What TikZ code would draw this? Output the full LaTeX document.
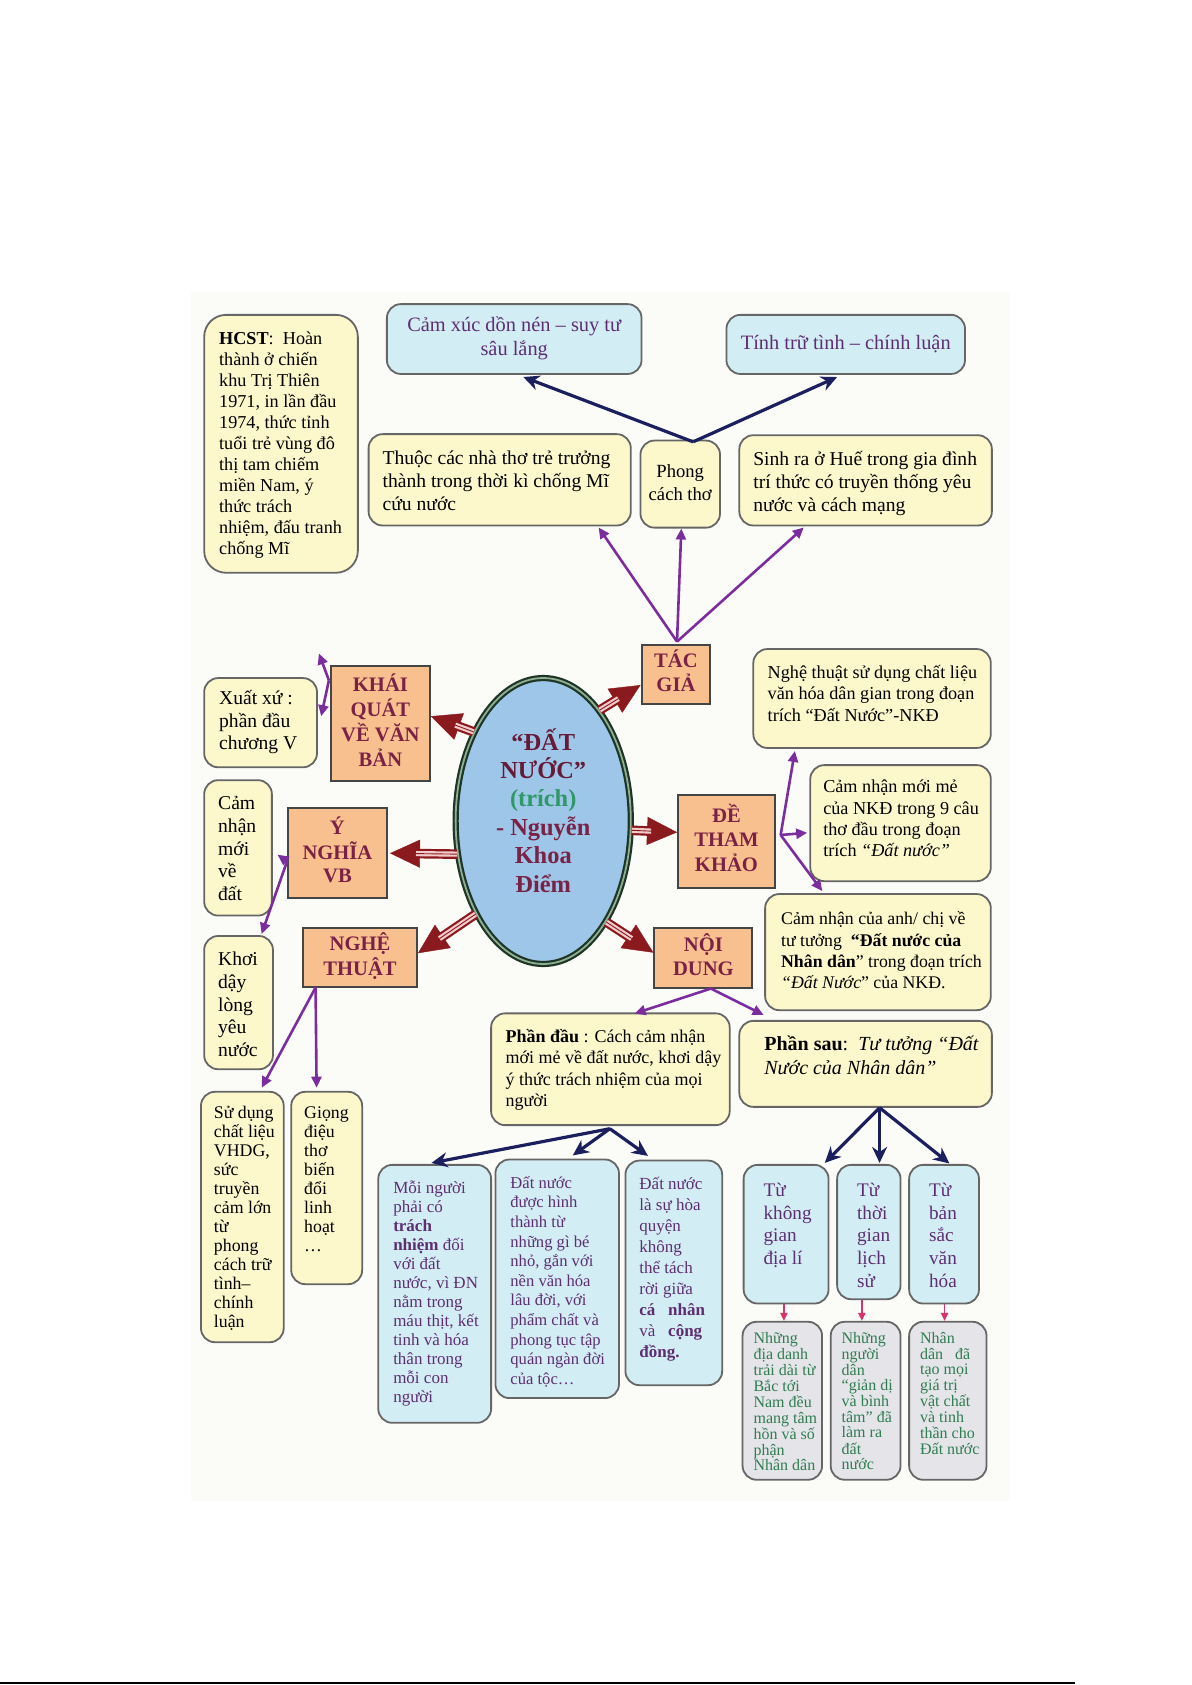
\documentclass[tikz,border=0pt]{standalone}
\usepackage{fontspec}
\setmainfont{Liberation Serif}
\usetikzlibrary{shapes.geometric,arrows.meta,calc}
\definecolor{yfill}{HTML}{FCF8CC}
\definecolor{bfill}{HTML}{D3EDF5}
\definecolor{gfill}{HTML}{E4E4E9}
\definecolor{ofill}{HTML}{F9C08F}
\definecolor{bord}{HTML}{666666}
\definecolor{obord}{HTML}{454545}
\definecolor{mar}{HTML}{7A2246}
\definecolor{ellmar}{HTML}{661A38}
\definecolor{ellfill}{HTML}{9DC6E8}
\definecolor{ellbord}{HTML}{1E3526}
\definecolor{ellin}{HTML}{8FAF95}
\definecolor{trgreen}{HTML}{2E9966}
\definecolor{purpc}{HTML}{7B2D9E}
\definecolor{navyc}{HTML}{1C1F5E}
\definecolor{arrred}{HTML}{8A1A1E}
\definecolor{shaftin}{HTML}{F2CBCB}
\definecolor{pinkc}{HTML}{D6336C}
\definecolor{ptext}{HTML}{5E2E72}
\definecolor{gtext}{HTML}{2F7D50}
\definecolor{panelc}{HTML}{FBFCF8}
\newcommand\setfs[2]{\fontsize{#1}{#2}\selectfont}
\newcommand\Lt[1]{\begin{tabular}{@{}l@{}}#1\end{tabular}}
\newcommand\Ct[1]{\begin{tabular}{@{}c@{}}#1\end{tabular}}
% style, name, x1, y1, x2, y2, pad(pt), valign, text
\newcommand\mkbox[9]{%
  \pgfmathsetmacro\bxX{(#3+#5)/2}%
  \pgfmathsetmacro\bxY{(#4+#6)/2}%
  \pgfmathsetmacro\bxW{(#5-#3)*0.5374-2*#7}%
  \pgfmathsetmacro\bxH{(#6-#4)*0.5374-2*#7}%
  \node[#1, inner sep=#7pt] (#2) at (\bxX,\bxY) {\parbox[c][\bxH pt][#8]{\bxW pt}{#9}};%
}
\newcommand\bigarr[2]{%
  \draw[arrred, line width=0.2pt, -{Triangle[length=15pt,width=14pt]}] #1 -- #2;
  \draw[arrred, line width=1.1pt, double=shaftin, double distance=2.6pt, shorten >=13pt] #1 -- #2;
  \draw[arrred, line width=0.45pt, shorten >=13pt] #1 -- #2;
}
\begin{document}
\begin{tikzpicture}[x=0.5374pt, y=-0.5374pt,
  ybox/.style={draw=bord, line width=0.9pt, fill=yfill, rounded corners=7pt, text=black},
  bbox/.style={draw=bord, line width=0.9pt, fill=bfill, rounded corners=7pt, text=ptext},
  gbox/.style={draw=bord, line width=0.9pt, fill=gfill, rounded corners=7pt, text=gtext},
  obox/.style={draw=obord, line width=1pt, fill=ofill, text=mar, font=\bfseries},
  purparr/.style={draw=purpc, line width=1.3pt, -{Triangle[length=5.5pt,width=5pt]}},
  navyarr/.style={draw=navyc, line width=1.6pt, -{Stealth[length=8pt,width=7.5pt]}},
  pinkarr/.style={draw=pinkc, line width=0.8pt, -{Triangle[length=4pt,width=3.6pt]}}]
\useasboundingbox (0,0) rectangle (1109,1568);
\fill[white] (0,0) rectangle (1109,1568);
\fill[panelc] (178,272) rectangle (940,1397);
\draw[black, line width=1.3pt] (0,1566) -- (1000,1566);

% top row
\mkbox{bbox}{cx}{360}{283}{597}{348}{4}{c}{\centering\setfs{10.2}{11.8}\Ct{Cảm xúc dồn nén – suy tư\\sâu lắng}}
\mkbox{bbox}{tt}{676}{293}{898}{348}{4}{c}{\centering\setfs{10.2}{11.8}\Ct{Tính trữ tình – chính luận}}
\mkbox{ybox, rounded corners=11pt}{hcst}{190}{293}{333}{533}{7.5}{t}{\setfs{9.1}{10.5}\Lt{\textbf{HCST}:\ \ Hoàn\\thành ở chiến\\khu Trị Thiên\\1971, in lần đầu\\1974, thức tỉnh\\tuổi trẻ vùng đô\\thị tam chiếm\\miền Nam, ý\\thức trách\\nhiệm, đấu tranh\\chống Mĩ}}
\mkbox{ybox}{thuoc}{343}{404}{587}{489}{7}{t}{\setfs{9.8}{11.5}\Lt{Thuộc các nhà thơ trẻ trưởng\\thành trong thời kì chống Mĩ\\cứu nước}}
\mkbox{ybox}{pc}{596}{410}{670}{491}{2}{c}{\centering\setfs{9.3}{11.8}\Ct{Phong\\cách thơ}}
\mkbox{ybox}{sinh}{688}{405}{923}{489}{7}{t}{\setfs{9.8}{11.5}\Lt{Sinh ra ở Huế trong gia đình\\trí thức có truyền thống yêu\\nước và cách mạng}}
\mkbox{obox}{tg}{597}{600}{661}{655}{3}{c}{\centering\setfs{10.3}{11.8}\Ct{TÁC\\GIẢ}}

% right column
\mkbox{ybox}{nt1}{701}{604}{922}{696}{7.2}{t}{\setfs{9.1}{10.7}\Lt{Nghệ thuật sử dụng chất liệu\\văn hóa dân gian trong đoạn\\trích “Đất Nước”-NKĐ}}
\mkbox{ybox}{cn9}{754}{712}{922}{820}{6.5}{t}{\setfs{9.1}{10.6}\Lt{Cảm nhận mới mẻ\\của NKĐ trong 9 câu\\thơ đầu trong đoạn\\trích \textit{“Đất nước”}}}
\mkbox{obox}{de}{631}{740}{721}{826}{3}{c}{\centering\setfs{10.3}{11.8}\Ct{ĐỀ\\THAM\\KHẢO}}
\mkbox{ybox}{cnad}{712}{832}{922}{940}{8}{t}{\setfs{8.9}{10.6}\Lt{Cảm nhận của anh/ chị về\\tư tưởng\ \ \textbf{“Đất nước của}\\\textbf{Nhân dân}” trong đoạn trích\\\textit{“Đất Nước}” của NKĐ.}}

% left column
\mkbox{obox}{kq}{308}{620}{400}{727}{3}{c}{\centering\setfs{10.3}{11.8}\Ct{KHÁI\\QUÁT\\VỀ VĂN\\BẢN}}
\mkbox{ybox}{xx}{190}{631}{295}{714}{7.5}{c}{\setfs{9.8}{11.3}\Lt{Xuất xứ :\\phần đầu\\chương V}}
\mkbox{obox}{yn}{268}{752}{360}{836}{3}{c}{\centering\setfs{10.3}{11.8}\Ct{Ý\\NGHĨA\\VB}}
\mkbox{ybox}{cnd}{190}{726}{253}{852}{7}{t}{\setfs{9.8}{11.3}\Lt{Cảm\\nhận\\mới\\về\\đất}}
\mkbox{ybox}{kd}{190}{871}{254}{995}{7}{t}{\setfs{9.8}{11.3}\Lt{Khơi\\dậy\\lòng\\yêu\\nước}}
\mkbox{obox}{ngt}{282}{864}{388}{918}{3}{c}{\centering\setfs{10.3}{11.8}\Ct{NGHỆ\\THUẬT}}
\mkbox{ybox}{sd}{187}{1016}{264}{1249}{6.5}{t}{\setfs{8.9}{9.5}\Lt{Sử dụng\\chất liệu\\VHDG,\\sức\\truyền\\cảm lớn\\từ\\phong\\cách trữ\\tình–\\chính\\luận}}
\mkbox{ybox}{gd}{271}{1016}{337}{1195}{6.5}{t}{\setfs{8.9}{9.5}\Lt{Giọng\\điệu\\thơ\\biến\\đổi\\linh\\hoạt\\…}}

% bottom
\mkbox{obox}{nd}{609}{864}{700}{919}{3}{c}{\centering\setfs{10.3}{11.8}\Ct{NỘI\\DUNG}}
\mkbox{ybox}{pd}{457}{943}{679}{1047}{7.2}{t}{\setfs{9.0}{10.6}\Lt{\textbf{Phần đầu} : Cách cảm nhận\\mới mẻ về đất nước, khơi dậy\\ý thức trách nhiệm của mọi\\người}}
\mkbox{ybox}{ps}{688}{950}{923}{1030}{6.5}{t}{\leftskip=6pt\setfs{10}{11.8}\Lt{\textbf{Phần sau}:\ \ \textit{Tư tưởng “Đất}\\\textit{Nước của Nhân dân”}}}

\mkbox{bbox}{mn}{352}{1084}{457}{1324}{7.5}{t}{\setfs{8.5}{9.5}\Lt{Mỗi người\\phải có\\\textbf{trách}\\\textbf{nhiệm} đối\\với đất\\nước, vì ĐN\\nằm trong\\máu thịt, kết\\tinh và hóa\\thân trong\\mỗi con\\người}}
\mkbox{bbox}{dn1}{461}{1079}{576}{1301}{7.5}{t}{\setfs{8.3}{9.8}\Lt{Đất nước\\được hình\\thành từ\\những gì bé\\nhỏ, gắn với\\nền văn hóa\\lâu đời, với\\phẩm chất và\\phong tục tập\\quán ngàn đời\\của tộc…}}
\mkbox{bbox}{dn2}{582}{1080}{672}{1289}{7}{t}{\setfs{8.5}{10.5}\Lt{Đất nước\\là sự hòa\\quyện\\không\\thể tách\\rời giữa\\\textbf{cá\ \ \ nhân}\\và\ \ \ \textbf{cộng}\\\textbf{đồng.}}}

\mkbox{bbox}{t1}{692}{1084}{771}{1213}{8}{t}{\leftskip=2pt\setfs{9.6}{11.3}\Lt{Từ\\không\\gian\\địa lí}}
\mkbox{bbox}{t2}{779}{1084}{838}{1209}{8}{t}{\leftskip=2pt\setfs{9.6}{11.3}\Lt{Từ\\thời\\gian\\lịch\\sử}}
\mkbox{bbox}{t3}{846}{1084}{911}{1213}{8}{t}{\leftskip=2pt\setfs{9.6}{11.3}\Lt{Từ\\bản\\sắc\\văn\\hóa}}

\mkbox{gbox}{g1}{691}{1230}{765}{1377}{5.5}{t}{\setfs{8.0}{7.6}\Lt{Những\\địa danh\\trải dài từ\\Bắc tới\\Nam đều\\mang tâm\\hồn và số\\phận\\Nhân dân}}
\mkbox{gbox}{g2}{773}{1230}{838}{1377}{5.5}{t}{\setfs{8.0}{7.6}\Lt{Những\\người\\dân\\“giản dị\\và bình\\tâm” đã\\làm ra\\đất\\nước}}
\mkbox{gbox}{g3}{846}{1230}{918}{1377}{5.5}{t}{\setfs{8.0}{7.6}\Lt{Nhân\\dân\ \ \ đã\\tạo mọi\\giá trị\\vật chất\\và tinh\\thần cho\\Đất nước}}

% central ellipse
\node[ellipse, draw=ellbord, line width=1.1pt, double=ellin, double distance=0.9pt, fill=ellfill,
      minimum width=87.6pt, minimum height=143pt, inner sep=0pt] (ell) at (505.5,764) {};
\node[align=center, text=mar, font=\bfseries\setfs{12.2}{14.2}] (elltxt) at (505.5,754)
  {\textcolor{ellmar}{“ĐẤT}\\\textcolor{ellmar}{NƯỚC”}\\\textcolor{trgreen}{(trích)}\\- Nguyễn\\Khoa\\Điểm};

% big double arrows from the ellipse
\bigarr{(ell.63)}{($(tg.west)+(0,10)$)}
\bigarr{(ell.128)}{($(kq.east)+(0,-7)$)}
\bigarr{(ell.201)}{($(yn.east)+(2,0)$)}
\bigarr{(ell.234)}{($(ngt.east)+(0,-4)$)}
\bigarr{(ell.354)}{($(de.west)+(0,-8.5)$)}
\bigarr{(ell.302)}{($(nd.west)+(0,-5)$)}

% TAC GIA
\coordinate (tgj) at ($(tg.north)+(1,-2)$);
\draw[purparr] (tgj) -- ($(thuoc.south)+(92,1)$);
\draw[purparr] (tgj) -- ($(pc.south)+(1,0)$);
\draw[purparr] (tgj) -- ($(sinh.south)+(-57.5,1)$);
% Phong cach tho
\coordinate (pcj) at ($(pc.north)+(12,2)$);
\draw[navyarr] (pcj) -- ($(cx.south)+(8.5,2)$);
\draw[navyarr] (pcj) -- ($(tt.south)+(-8,2)$);
% DE THAM KHAO
\coordinate (dej) at ($(de.east)+(4.5,-6)$);
\draw[purparr] (dej) -- ($(nt1.south west)+(39.5,2)$);
\draw[purparr] (dej) -- ($(cn9.west)+(-2,9)$);
\draw[purparr] (dej) -- ($(cnad.north west)+(54,-2)$);
% KHAI QUAT
\coordinate (kqj) at ($(kq.north west)+(-1,14)$);
\coordinate (kqup) at ($(kqj)+(-9.3,-25)$);
\draw[purparr] (kqj) -- (kqup);
\draw[purparr] (kqj) -- ($(xx.east)+(3,-6)$);
% Y NGHIA
\coordinate (ynj) at ($(yn.west)+(0,7.6)$);
\draw[purparr] (ynj) -- ($(cnd.east)+(4.4,6.3)$);
\draw[purparr] (ynj) -- ($(kd.north)+(21.4,-1)$);
% NGHE THUAT
\coordinate (ngj) at ($(ngt.south west)+(12.6,0)$);
\draw[purparr] (ngj) -- ($(sd.north)+(18,-3)$);
\draw[purparr] (ngj) -- ($(gd.north)+(-9.4,-3)$);
% NOI DUNG
\coordinate (ndj) at ($(nd.south)+(7,0)$);
\draw[purparr] (ndj) -- ($(pd.north)+(22.5,1)$);
\draw[purparr] (ndj) -- ($(ps.north west)+(23.4,-4.7)$);
% Phan dau
\coordinate (pdj) at ($(pd.south)+(-0.5,2.5)$);
\draw[navyarr] (pdj) -- ($(mn.north)+(-3,-1)$);
\draw[navyarr] (pdj) -- ($(dn1.north)+(14.5,-3)$);
\draw[navyarr] (pdj) -- ($(dn2.north)+(-24,-3.5)$);
% Phan sau
\coordinate (psj) at ($(ps.south)+(13,0)$);
\draw[navyarr] (psj) -- ($(t1.north)+(36,-1)$);
\draw[navyarr] (psj) -- ($(t2.north)+(10,-1)$);
\draw[navyarr] (psj) -- ($(t3.north)+(5,-0.5)$);
% pink small arrows
\draw[pinkarr] ($(t1.south)+(-2,0)$) -- ($(t1.south |- g1.north)+(-2,0)$);
\draw[pinkarr] ($(t2.south)+(-6.5,0)$) -- ($(t2.south |- g2.north)+(-6.5,0)$);
\draw[pinkarr] ($(t3.south)+(0.5,0)$) -- ($(t3.south |- g3.north)+(0.5,0)$);
\end{tikzpicture}
\end{document}
